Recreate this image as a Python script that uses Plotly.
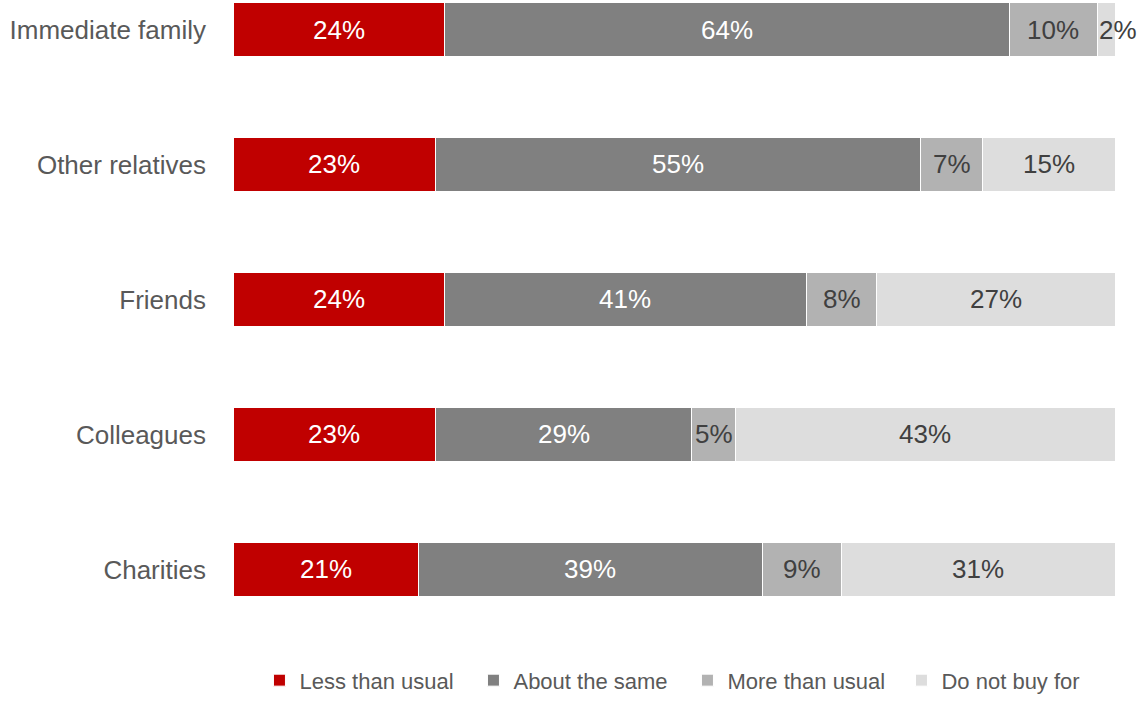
import plotly.graph_objects as go

categories = ["Immediate family", "Other relatives", "Friends", "Colleagues", "Charities"]
series_names = ["Less than usual", "About the same", "More than usual", "Do not buy for"]
less_than_usual = [24, 23, 24, 23, 21]
about_the_same = [64, 55, 41, 29, 39]
more_than_usual = [10, 7, 8, 5, 9]
do_not_buy_for = [2, 15, 27, 43, 31]

series_values = [less_than_usual, about_the_same, more_than_usual, do_not_buy_for]
colors = ["#C00000", "#808080", "#B2B2B2", "#DDDDDD"]
label_colors = ["#FFFFFF", "#FFFFFF", "#404040", "#404040"]

FONT = "Liberation Sans, Arial, sans-serif"

fig = go.Figure()
for name, vals, col in zip(series_names, series_values, colors):
    fig.add_trace(go.Bar(
        y=categories, x=vals, name=name, orientation="h",
        marker=dict(color=col, line=dict(color="#FFFFFF", width=1)),
        hoverinfo="skip",
    ))

# value labels on each segment; very thin segments get the label starting at the segment edge
annotations = []
for ci, cat in enumerate(categories):
    start = 0
    for vals, tc in zip(series_values, label_colors):
        v = vals[ci]
        thin = v < 4
        annotations.append(dict(
            x=start if thin else start + v / 2, y=cat, xref="x", yref="y",
            xanchor="left" if thin else "center",
            text=f"{v}%", showarrow=False,
            font=dict(family=FONT, size=26, color=tc),
        ))
        start += v

fig.update_layout(
    width=1137, height=702,
    margin=dict(l=233, r=22, t=0, b=90),
    plot_bgcolor="#FFFFFF", paper_bgcolor="#FFFFFF",
    barmode="stack", bargap=0.6,
    font=dict(family=FONT, color="#595959"),
    annotations=annotations,
    showlegend=True,
    legend=dict(
        orientation="h", traceorder="normal",
        x=0.03, xanchor="left", y=-0.146, yanchor="bottom",
        font=dict(family=FONT, size=22, color="#595959"),
        entrywidth=169, entrywidthmode="pixels",
        itemclick=False, itemdoubleclick=False,
    ),
    xaxis=dict(range=[0, 100], visible=False, fixedrange=True),
    yaxis=dict(
        categoryorder="array", categoryarray=categories,
        range=[4.315, -0.2185],
        tickfont=dict(family=FONT, size=26, color="#595959"),
        showgrid=False, zeroline=False, showline=False, ticks="",
        ticklabelstandoff=26, fixedrange=True,
    ),
)

fig.write_html("out.html")
